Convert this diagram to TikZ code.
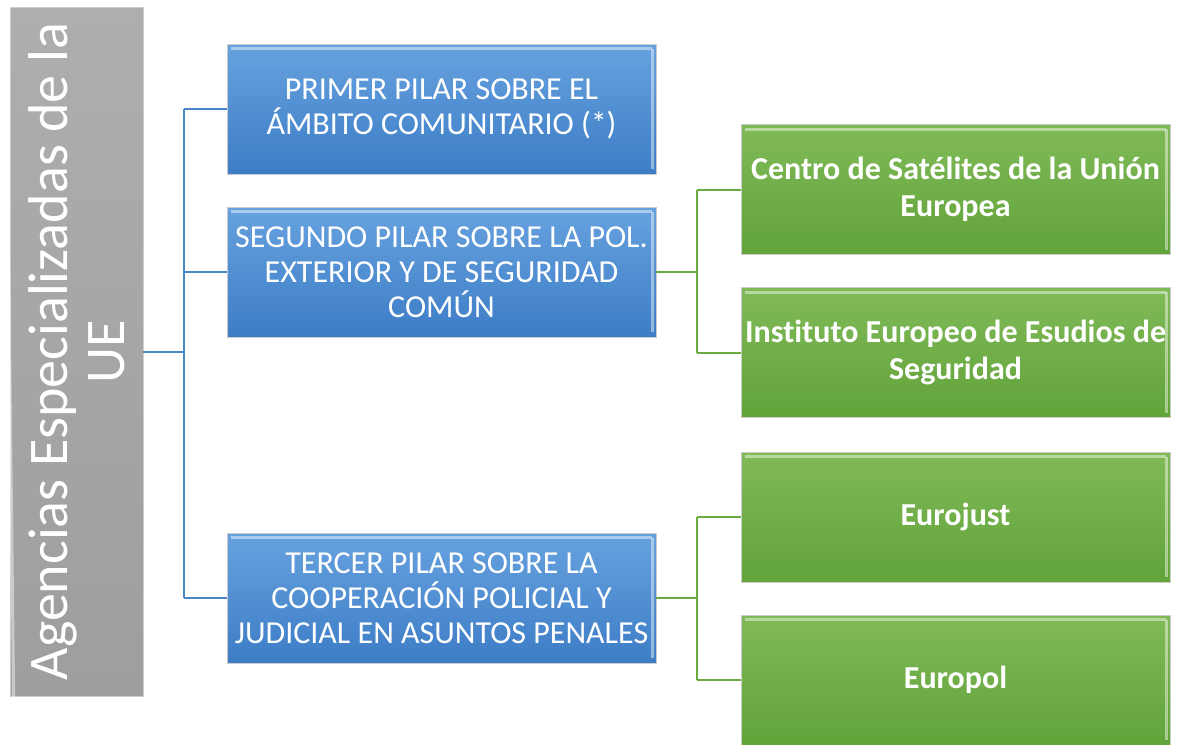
\documentclass[tikz,border=0pt]{standalone}
\usepackage{fontspec}
\setmainfont{Carlito}[Ligatures=NoCommon]
\begin{document}
\begin{tikzpicture}[x=1pt,y=-1pt,
  box/.style={minimum width=429pt, minimum height=130pt, inner sep=0pt, align=center, text=white, font=\fontsize{32}{35}\selectfont},
  bluebox/.style={box, draw=black!20, line width=0.6pt, top color=blueA, bottom color=blueB},
  greenbox/.style={box, draw=black!20, line width=0.6pt, top color=greenA, bottom color=greenB, font=\fontsize{32}{37}\bfseries\selectfont},
  graybox/.style={draw=black!20, line width=0.6pt, top color=grayA, bottom color=grayB, minimum width=689pt, minimum height=133pt, inner sep=0pt, text=white, align=center, font=\fontsize{56}{57}\selectfont},
  bline/.style={draw=lineblue, line width=2pt},
  gline/.style={draw=linegreen, line width=2pt},
  bevel/.style={draw=white, opacity=0.45, line width=3pt}]
\definecolor{blueA}{HTML}{67A2DF}
\definecolor{blueB}{HTML}{3D7DC6}
\definecolor{greenA}{HTML}{80BA58}
\definecolor{greenB}{HTML}{62A33A}
\definecolor{grayA}{HTML}{AEAEAE}
\definecolor{grayB}{HTML}{9E9E9E}
\definecolor{lineblue}{HTML}{4A86C8}
\definecolor{linegreen}{HTML}{6BAA3F}
\useasboundingbox (0,0) rectangle (1182,744);
% root
\node[graybox, rotate=90] (root) at (76.5,351.5) {Agencias Especializadas de la\\UE};
% pillars
\node[bluebox] (p1) at (441.5,109) {PRIMER PILAR SOBRE EL\\ÁMBITO COMUNITARIO (*)};
\node[bluebox] (p2) at (441.5,272) {SEGUNDO PILAR SOBRE LA POL.\\EXTERIOR Y DE SEGURIDAD\\COMÚN};
\node[bluebox] (p3) at (441.5,598) {TERCER PILAR SOBRE LA\\COOPERACIÓN POLICIAL Y\\JUDICIAL EN ASUNTOS PENALES};
% agencies
\node[greenbox] (g1) at (955.5,189.5) {Centro de Satélites de la Unión\\Europea};
\node[greenbox] (g2) at (955.5,352.5) {Instituto Europeo de Esudios de\\Seguridad};
\node[greenbox] (g3) at (955.5,517) {Eurojust};
\node[greenbox] (g4) at (955.5,680) {Europol};
% bevel highlights
\foreach \n in {p1,p2,p3,g1,g2,g3,g4,root}{
  \draw[bevel] ([shift={(4,5)}]\n.north west) -- ([shift={(-4,5)}]\n.north east);
}
\foreach \n in {p1,p2,p3,g1,g2,g3,g4}{
  \draw[bevel] ([shift={(-4,5)}]\n.north east) -- ([shift={(-4,-5)}]\n.south east);
}
% connectors
\coordinate (bx) at (184,0);
\draw[bline] (root.south) -- (root.south -| bx);
\draw[bline] (p1.west -| bx) -- (p3.west -| bx);
\draw[bline] (p1.west -| bx) -- (p1.west);
\draw[bline] (p2.west -| bx) -- (p2.west);
\draw[bline] (p3.west -| bx) -- (p3.west);
\coordinate (gx) at (697,0);
\draw[gline] (p2.east) -- (p2.east -| gx);
\draw[gline] (g1.west -| gx) -- (g2.west -| gx);
\draw[gline] (g1.west -| gx) -- (g1.west);
\draw[gline] (g2.west -| gx) -- (g2.west);
\draw[gline] (p3.east) -- (p3.east -| gx);
\draw[gline] (g3.west -| gx) -- (g4.west -| gx);
\draw[gline] (g3.west -| gx) -- (g3.west);
\draw[gline] (g4.west -| gx) -- (g4.west);
\end{tikzpicture}
\end{document}
